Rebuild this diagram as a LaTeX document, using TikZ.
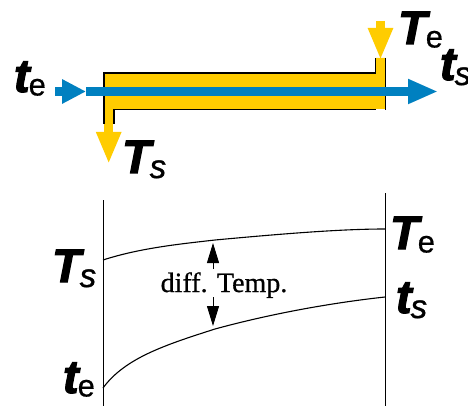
\documentclass[tikz,border=0pt]{standalone}
\usepackage{fontspec}
\setmainfont{Liberation Serif}[FakeBold=0.7]
\newfontfamily\heavyfont{Liberation Sans Bold Italic}[FakeBold=2.5]
\newfontfamily\subfont{Liberation Sans}[FakeBold=0.5]
\newfontfamily\subitfont{Liberation Sans Italic}[FakeBold=1]
\usetikzlibrary{arrows.meta}
\definecolor{hot}{RGB}{255,204,0}
\definecolor{cold}{RGB}{0,128,192}
\newcommand{\bigv}[2]{{\fontsize{47}{47}\selectfont\heavyfont #1}\kern-1pt\raisebox{-3.5pt}{\fontsize{31}{31}\selectfont\subfont #2}}
\newcommand{\bigvs}[2]{{\fontsize{47}{47}\selectfont\heavyfont #1}\kern-1pt\raisebox{-5pt}{\fontsize{33}{33}\selectfont\subitfont #2}}
\tikzset{
  x=1pt,y=-1pt,
  wall/.style={draw=black,line width=1.2pt},
  curvel/.style={draw=black,line width=1.1pt},
  hotarrow/.style={draw=hot,line width=9.5pt,-{Triangle[length=32pt,width=23pt]}},
  coldhead/.style={draw=cold,line width=8.6pt,-{Triangle[length=24pt,width=23pt]}},
  coldlong/.style={draw=cold,line width=8.6pt,-{Triangle[length=30pt,width=23pt]}},
  gaparrow/.style={draw=black,line width=1pt,-{Triangle[length=20pt,width=12pt]}},
  lbl/.style={inner sep=0pt,outer sep=0pt,anchor=base west},
  difflbl/.style={inner sep=0pt,anchor=base,font=\fontsize{28}{28}\selectfont}
}
\begin{document}
\begin{tikzpicture}
\useasboundingbox (0,0) rectangle (468,406);
\fill[white] (0,0) rectangle (468,406);
\coordinate (hin) at (380.5,21);
\coordinate (hinend) at (380.5,60);
\coordinate (hout) at (108.7,118);
\coordinate (houtend) at (108.7,164);
\coordinate (cin) at (55,91.5);
\coordinate (cintip) at (86,91.5);
\coordinate (couttip) at (438,91.5);
% hot fluid
\fill[hot] (104,73) -- (376,73) -- (376,58) -- (385,58) -- (385,109) -- (114,109) -- (114,124) -- (104,124) -- cycle;
\draw[hotarrow] (hin) -- (hinend);
\draw[hotarrow] (hout) -- (houtend);
% walls
\draw[wall] (104,124) -- (104,73) -- (375.5,73) -- (375.5,58);
\draw[wall] (385.5,58) -- (385.5,110);
\draw[wall] (114,124) -- (114,109.3) -- (376,109.3);
% cold fluid
\draw[coldhead] (cin) -- (cintip);
\draw[coldlong] (cintip) -- (couttip);
% labels top
\node[lbl] (te1) at (14,92) {\bigv{t}{e}};
\node[lbl] (Te1) at (398,44) {\bigv{T}{e}};
\node[lbl] (ts1) at (440,80) {\bigvs{t}{s}};
\node[lbl] (Ts1) at (122,173) {\bigvs{T}{s}};
% chart
\coordinate (la) at (103.5,200);
\coordinate (lb) at (103.5,406);
\coordinate (ra) at (385.5,193);
\coordinate (rb) at (385.5,406);
\draw[wall] (la) -- (lb);
\draw[wall] (ra) -- (rb);
\draw[curvel] (103,260) .. controls (140,248) and (180,244) .. (215,240) .. controls (280,234) and (340,229) .. (385,229);
\draw[curvel] (103,388) .. controls (125,358) and (165,345) .. (215,329) .. controls (270,314) and (330,303) .. (385,297);
\node[difflbl] (diff) at (224,292) {diff. Temp.};
\coordinate (upa) at (213,269);
\coordinate (upb) at (213,243);
\coordinate (dna) at (213,297);
\coordinate (dnb) at (213,326);
\draw[gaparrow] (upa) -- (upb);
\draw[gaparrow] (dna) -- (dnb);
\node[lbl] (Ts2) at (52,282) {\bigvs{T}{s}};
\node[lbl] (te2) at (63,393) {\bigv{t}{e}};
\node[lbl] (Te2) at (390,249) {\bigv{T}{e}};
\node[lbl] (ts2) at (396,313) {\bigvs{t}{s}};
\end{tikzpicture}
\end{document}
